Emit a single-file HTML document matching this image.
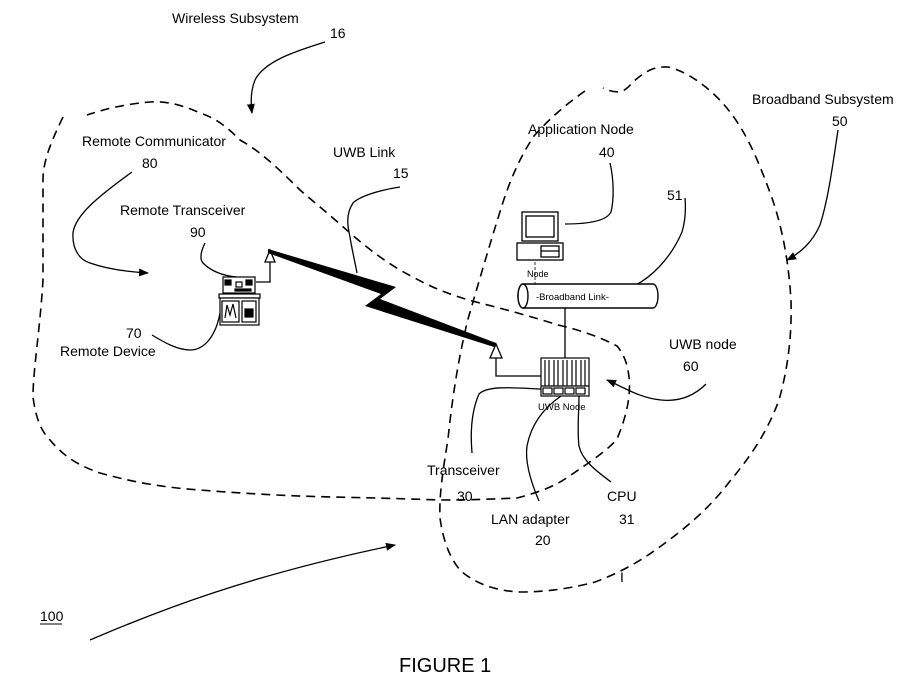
<!DOCTYPE html>
<html><head><meta charset="utf-8"><style>
body{margin:0;background:#fff;}
svg{display:block;}
text{font-family:"Liberation Sans",Arial,sans-serif;font-size:14px;fill:#000;}
</style></head><body>
<svg width="921" height="685" viewBox="0 0 921 685" xmlns="http://www.w3.org/2000/svg">
<defs><marker id="ah" markerWidth="10" markerHeight="8" refX="9" refY="4" orient="auto" markerUnits="userSpaceOnUse"><path d="M0,0 L10,4 L0,8 Z" fill="#000"/></marker></defs>
<g fill="none" stroke="#000" stroke-width="1.6" stroke-dasharray="9,6">
<path d="M63,117 C52,140 43,160 43,180 C43,220 43,250 43,280 C40,330 33,370 33,397 C36,420 42,432 50,440 C65,458 80,466 100,473 C140,484 170,488 200,490 C250,494 290,496 333,497 C380,498 410,499 441,500 C470,500 495,499 517,498 C540,492 555,486 568,477 C590,462 608,450 617,439 C627,415 631,395 629,377 C627,360 622,352 617,346 C600,337 580,330 558,325 C530,316 500,308 472,301 C445,293 430,287 400,270 C380,258 365,246 350,233 C330,215 315,203 300,190 C275,165 258,150 240,140 C225,125 215,118 200,113 C180,104 165,101 150,102 C125,104 105,109 87,115"/>
<path d="M585,91 C565,105 548,120 534,136 C518,160 508,185 499,215 C488,250 478,285 468,319 C458,360 452,400 448,439 C443,470 439,495 440,518 C443,540 450,560 462,572 C478,585 498,591 520,592 C548,592 572,588 595,582 C622,572 642,560 661,546 C690,525 712,505 730,481 C752,455 768,430 779,400 C788,368 792,335 791,301 C789,265 783,230 772,198 C760,165 748,135 730,112 C715,92 690,72 668,67 C650,66 642,75 634,81 C628,88 624,91 620,92 C612,92 607,90 603,88"/>
</g>
<g fill="none" stroke="#000" stroke-width="1.3">
<path d="M325,42 C300,50 265,60 255,80 C250,92 251,105 252,113" marker-end="url(#ah)"/>
<path d="M132,172 C100,195 75,215 73,233 C72,250 80,260 90,263 C110,270 130,272 148,273" marker-end="url(#ah)"/>
<path d="M205,243 C200,253 200,260 203,263 C212,272 225,276 237,277"/>
<path d="M152,335 C165,343 178,350 190,350 C205,350 216,335 220,313"/>
<path d="M400,187 C380,190 360,196 353,203 C345,215 348,228 350,237 C352,250 355,262 357,273"/>
<path d="M610,163 C614,180 614,200 611,212 C606,222 585,224 565,224"/>
<path d="M685,198 C686,210 685,222 682,232 C670,260 650,278 634,286"/>
<path d="M838,130 C832,170 828,200 820,225 C812,243 800,253 787,260" marker-end="url(#ah)"/>
<path d="M706,384 C695,395 680,402 661,400 C640,398 625,388 607,380" marker-end="url(#ah)"/>
<path d="M472,453 C470,430 472,410 479,394 C488,385 515,388 541,389"/>
<path d="M539,501 C530,480 525,460 527,446 C532,420 548,405 561,396"/>
<path d="M611,482 C595,470 582,460 579,446 C577,430 579,410 579,396"/>
<path d="M90,640 C160,610 250,575 395,545" marker-end="url(#ah)"/>
<path d="M565,308 L565,358"/>
<path d="M270,262 L270,282 L256,282"/>
<path d="M496,358 L496,376 L541,376"/>
</g>
<path d="M270,250 L265,262 L275,262 Z" fill="#fff" stroke="#000" stroke-width="1.3"/>
<path d="M496,344 L490,358 L502,358 Z" fill="#fff" stroke="#000" stroke-width="1.3"/>
<polygon points="268,249 396,287 380,299 496,343 494,347 365,306 381,294 268,253" fill="#000"/>
<g stroke="#000" fill="#fff" stroke-width="1.2">
<rect x="223" y="277" width="32" height="16"/>
<rect x="219" y="294" width="41" height="4"/>
<rect x="220" y="298" width="39" height="27"/>
<rect x="222" y="301" width="17" height="21"/>
<rect x="242" y="301" width="14" height="21"/>
<path d="M225,318 L227,305 L230,315 L233,304 L236,318" fill="none"/>
<rect x="225" y="280" width="6" height="5" fill="#000"/>
<rect x="236" y="282" width="6" height="5"/>
<rect x="246" y="280" width="6" height="5" fill="#000"/>
<rect x="235" y="289" width="16" height="2" fill="#000"/>
<rect x="245" y="309" width="8" height="8" fill="#000"/>
</g>
<g stroke="#000" fill="#fff" stroke-width="1.3">
<rect x="522" y="212" width="36" height="29"/>
<rect x="526" y="216" width="28" height="21"/>
<rect x="517" y="243" width="46" height="17"/>
<rect x="541" y="246" width="18" height="11"/>
<line x1="541" y1="251" x2="559" y2="251"/>
</g>
<text x="527" y="277" style="font-size:9px">Node</text>
<path d="M535,262 L535,300" stroke="#000" stroke-width="0.8" stroke-dasharray="3,2"/>
<g stroke="#000" stroke-width="1.4" fill="#fff">
<path d="M523,284 L653,284 A5,12 0 0 1 653,308 L523,308 A5,12 0 0 1 523,284 Z"/>
<ellipse cx="523" cy="296" rx="5" ry="12"/>
</g>
<text x="536" y="300" style="font-size:9.5px">-Broadband Link-</text>
<g stroke="#000" stroke-width="1.2">
<rect x="541" y="358" width="48" height="38" fill="#fff"/>
<path d="M545,360V386M549,360V386M554,360V386M558,360V386M563,360V386M567,360V386M572,360V386M576,360V386M581,360V386M585,360V386" />
<path d="M541,386H589" />
<rect x="543" y="388" width="9" height="6" fill="#fff"/><rect x="554" y="388" width="9" height="6" fill="#fff"/><rect x="565" y="388" width="9" height="6" fill="#fff"/><rect x="576" y="388" width="9" height="6" fill="#fff"/>
</g>
<text x="538" y="410" style="font-size:9.5px">UWB Node</text>
<text x="620" y="582" style="font-size:14px">I</text>
<text x="172" y="23">Wireless Subsystem</text>
<text x="330" y="38">16</text>
<text x="82" y="146">Remote Communicator</text>
<text x="142" y="168">80</text>
<text x="120" y="215">Remote Transceiver</text>
<text x="190" y="237">90</text>
<text x="126" y="338">70</text>
<text x="60" y="356">Remote Device</text>
<text x="333" y="157">UWB Link</text>
<text x="393" y="178">15</text>
<text x="528" y="134">Application Node</text>
<text x="599" y="157">40</text>
<text x="667" y="200">51</text>
<text x="752" y="104">Broadband Subsystem</text>
<text x="832" y="126">50</text>
<text x="669" y="349">UWB node</text>
<text x="683" y="371">60</text>
<text x="427" y="475">Transceiver</text>
<text x="457" y="501">30</text>
<text x="607" y="501">CPU</text>
<text x="619" y="524">31</text>
<text x="491" y="524">LAN adapter</text>
<text x="535" y="545">20</text>
<text x="40" y="621">100</text>
<line x1="40" y1="624" x2="62" y2="624" stroke="#000" stroke-width="1"/>
<text x="399" y="672" style="font-size:20px">FIGURE 1</text>
</svg>
</body></html>
